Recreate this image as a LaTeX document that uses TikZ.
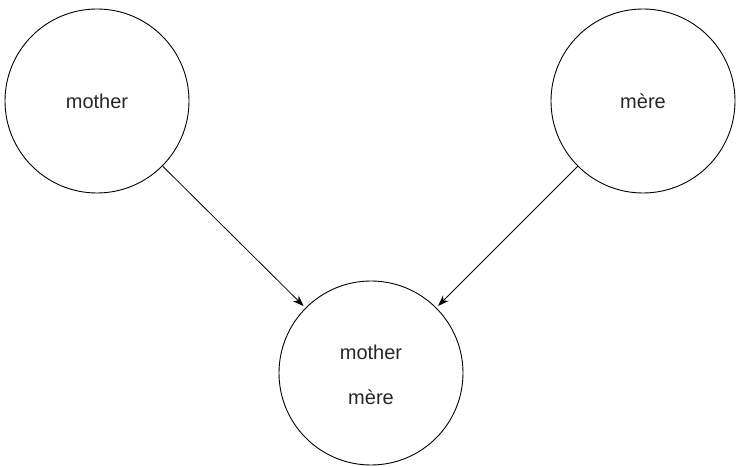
\documentclass[tikz,border=0pt]{standalone}
\usepackage{fontspec}
\setmainfont{Liberation Sans}
\usetikzlibrary{arrows.meta}
\begin{document}
\begin{tikzpicture}[x=1pt,y=1pt,
  txt/.style={font=\fontsize{20}{24}\selectfont, text=black!85},
  circ/.style={draw, circle, line width=0.9pt, minimum size=184pt, inner sep=0pt, txt, align=center},
  conn/.style={line width=0.8pt, -{Stealth[length=11pt,width=8pt]}, shorten >=2.5pt}]
\useasboundingbox (0,0) rectangle (736,466);
\node[circ] (m) at (97,365) {mother};
\node[circ] (r) at (643,365) {mère};
\node[circ] (b) at (371,93) {};
\node[txt] (bt1) at (371,114) {mother};
\node[txt] (bt2) at (371,69) {mère};
\draw[conn] (m) -- (b);
\draw[conn] (r) -- (b);
\end{tikzpicture}
\end{document}
